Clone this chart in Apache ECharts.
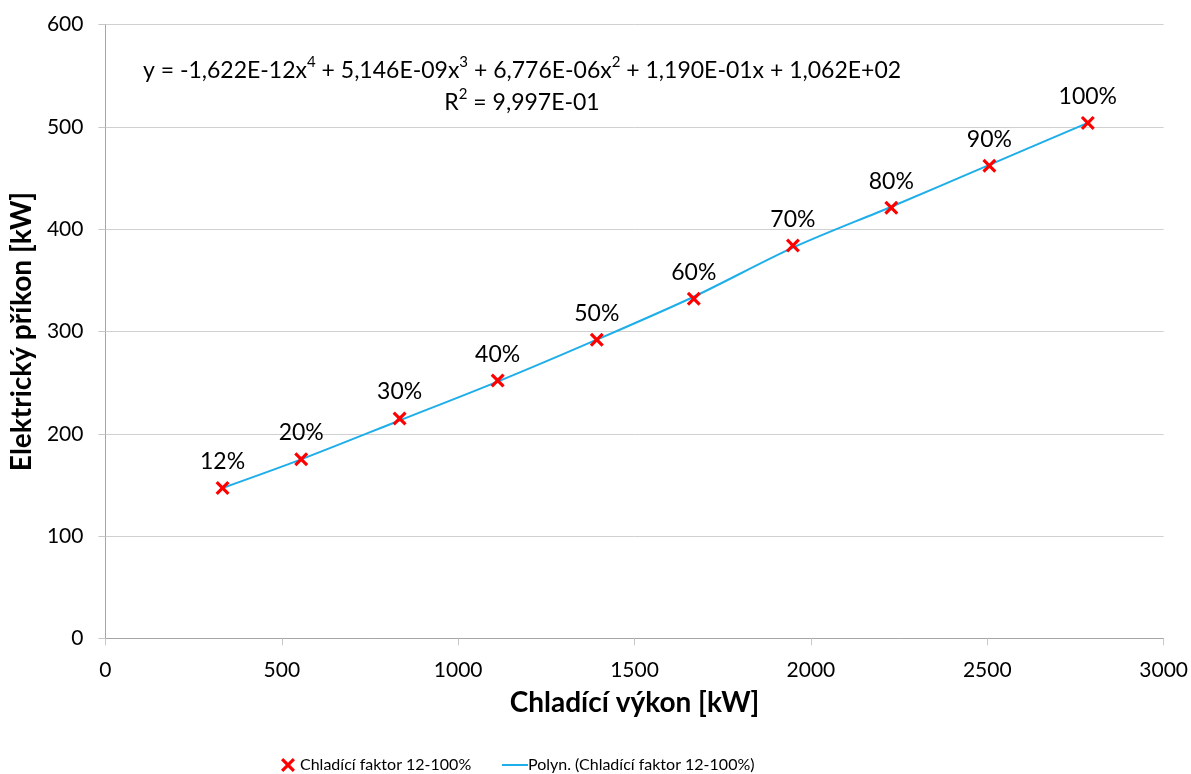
<!DOCTYPE html>
<html>
<head>
<meta charset="utf-8">
<script src="https://cdn.jsdelivr.net/npm/echarts@6/dist/echarts.min.js"></script>
<style>html,body{margin:0;padding:0;background:#fff}#c{width:1191px;height:774px}</style>
</head>
<body>
<div id="c"></div>
<script>
// Data
const pointLabels = ['12%','20%','30%','40%','50%','60%','70%','80%','90%','100%'];
const coolingPower = [332, 555, 834, 1112, 1393, 1668, 1949, 2228, 2506, 2785];   // Chladící výkon [kW]
const electricInput = [147, 175, 215, 252, 292, 332, 384, 421, 462, 504];        // Elektrický příkon [kW]
const trendX = [332, 555, 834, 1112, 1393, 1668, 1949, 2228, 2506, 2785];
const trendY = [147, 175, 213, 251, 292, 334, 382, 422, 463, 504];
const xTicks = [0, 500, 1000, 1500, 2000, 2500, 3000];
const yTicks = [0, 100, 200, 300, 400, 500, 600];
const equationRich = '{n|y = -1,622E-12x}{s|4}{n| + 5,146E-09x}{s|3}{n| + 6,776E-06x}{s|2}{n| + 1,190E-01x + 1,062E+02}';
const r2Rich = '{n|R}{s|2}{n| = 9,997E-01}';
const scatterName = 'Chladící faktor 12-100%';
const trendName = 'Polyn. (Chladící faktor 12-100%)';

const FONT = 'Lato, "Open Sans", sans-serif';
const chart = echarts.init(document.getElementById('c'), null, {renderer: 'canvas'});
const xMark = 'path://M0,1.6 L1.6,0 L5,3.4 L8.4,0 L10,1.6 L6.6,5 L10,8.4 L8.4,10 L5,6.6 L1.6,10 L0,8.4 L3.4,5 Z';
const RED = '#ff0000';
const BLUE = '#1eaeea';

const eqRich = {
  n: {fontFamily: FONT, fontSize: 23, color: '#000', lineHeight: 27, verticalAlign: 'bottom'},
  s: {fontFamily: FONT, fontSize: 15, color: '#000', lineHeight: 27, verticalAlign: 'top'}
};

chart.setOption({
  animation: false,
  backgroundColor: '#fff',
  textStyle: {fontFamily: FONT, color: '#000'},
  grid: {left: 104.5, right: 26, top: 24.7, bottom: 135.7, containLabel: false},
  legend: [
    {
      left: 276, top: 752,
      itemWidth: 14, itemHeight: 14,
      textStyle: {fontFamily: FONT, fontSize: 16, color: '#000', lineHeight: 14},
      data: [{name: scatterName, icon: xMark, itemStyle: {color: RED}}]
    },
    {
      left: 497, top: 752,
      itemWidth: 26, itemHeight: 2,
      textStyle: {fontFamily: FONT, fontSize: 16, color: '#000', lineHeight: 14, padding: [0, 0, 0, -5]},
      data: [{name: trendName, icon: 'rect', itemStyle: {color: BLUE}}]
    }
  ],
  xAxis: {
    type: 'value',
    min: xTicks[0], max: xTicks[xTicks.length - 1], interval: 500,
    name: 'Chladící výkon [kW]',
    nameLocation: 'middle',
    nameGap: 51,
    nameTextStyle: {fontFamily: FONT, fontSize: 28, fontWeight: 'bold', color: '#000'},
    axisLine: {show: true, onZero: false, lineStyle: {color: '#a6a6a6', width: 1}},
    axisTick: {show: true, length: 7, lineStyle: {color: '#c8c8c8'}},
    axisLabel: {fontFamily: FONT, fontSize: 21, color: '#000', margin: 21, formatter: v => String(v)},
    splitLine: {show: false}
  },
  yAxis: {
    type: 'value',
    min: yTicks[0], max: yTicks[yTicks.length - 1], interval: 100,
    name: 'Elektrický příkon [kW]',
    nameLocation: 'middle',
    nameGap: 64,
    nameRotate: 90,
    nameTextStyle: {fontFamily: FONT, fontSize: 28, fontWeight: 'bold', color: '#000'},
    axisLine: {show: true, lineStyle: {color: '#a6a6a6', width: 1}},
    axisTick: {show: true, length: 7, lineStyle: {color: '#c8c8c8'}},
    axisLabel: {fontFamily: FONT, fontSize: 21, color: '#000', margin: 22, formatter: v => String(v)},
    splitLine: {show: true, lineStyle: {color: '#d0d0d0', width: 1}}
  },
  graphic: [
    {type: 'text', x: 522, y: 55, z: 10, style: {text: equationRich, rich: eqRich, textAlign: 'center', textVerticalAlign: 'top'}},
    {type: 'text', x: 522, y: 87, z: 10, style: {text: r2Rich, rich: eqRich, textAlign: 'center', textVerticalAlign: 'top'}}
  ],
  series: [
    {
      name: trendName,
      type: 'line',
      smooth: 0.3,
      symbol: 'none',
      data: trendX.map((x, i) => [x, trendY[i]]),
      lineStyle: {color: BLUE, width: 2},
      itemStyle: {color: BLUE},
      z: 2
    },
    {
      name: scatterName,
      type: 'scatter',
      symbol: xMark,
      symbolSize: 14,
      data: coolingPower.map((x, i) => ({value: [x, electricInput[i]], label: {formatter: pointLabels[i]}})),
      itemStyle: {color: RED, opacity: 1},
      label: {show: true, position: 'top', distance: 8, fontFamily: FONT, fontSize: 23, color: '#000'},
      z: 3
    }
  ]
});
</script>
</body>
</html>
